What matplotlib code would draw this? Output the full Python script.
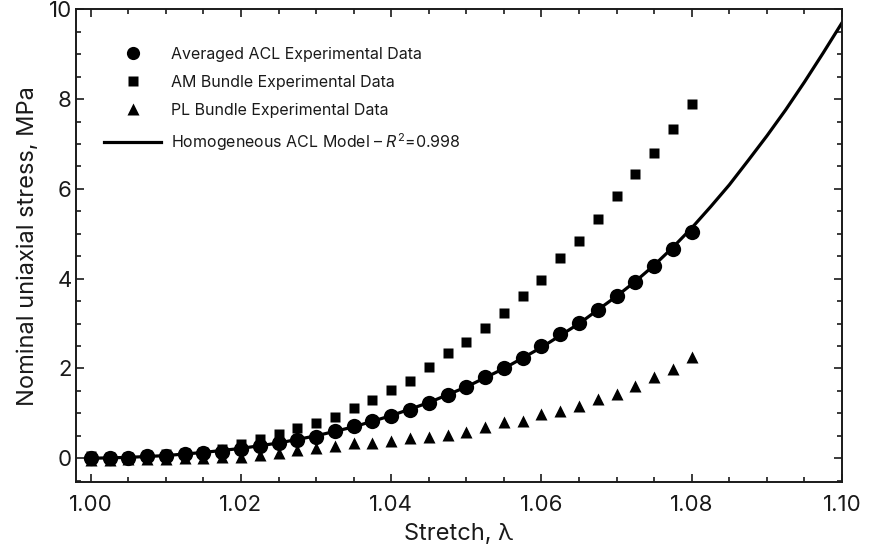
import matplotlib
matplotlib.use("Agg")
import matplotlib.pyplot as plt
from matplotlib.lines import Line2D
from matplotlib.ticker import MultipleLocator, FormatStrFormatter

# stretch values of the experimental points
stretch = [1.0, 1.0025, 1.005, 1.0075, 1.01, 1.0125, 1.015, 1.0175, 1.02, 1.0225,
           1.025, 1.0275, 1.03, 1.0325, 1.035, 1.0375, 1.04, 1.0425, 1.045, 1.0475,
           1.05, 1.0525, 1.055, 1.0575, 1.06, 1.0625, 1.065, 1.0675, 1.07, 1.0725,
           1.075, 1.0775, 1.08]

acl_avg = [0.0, 0.0, 0.01, 0.04, 0.06, 0.09, 0.11, 0.15, 0.20, 0.27,
           0.33, 0.41, 0.48, 0.61, 0.72, 0.82, 0.94, 1.08, 1.24, 1.42,
           1.59, 1.80, 2.02, 2.23, 2.49, 2.76, 3.01, 3.30, 3.61, 3.93,
           4.28, 4.66, 5.04]

am_bundle = [0.06, 0.03, 0.03, 0.07, 0.09, 0.11, 0.15, 0.20, 0.31, 0.42,
             0.55, 0.67, 0.78, 0.93, 1.13, 1.30, 1.51, 1.73, 2.03, 2.34,
             2.60, 2.91, 3.24, 3.62, 3.97, 4.45, 4.85, 5.32, 5.85, 6.33,
             6.81, 7.33, 7.88]

pl_bundle = [-0.03, -0.03, -0.02, -0.02, -0.01, 0.0, 0.0, 0.02, 0.03, 0.07,
             0.11, 0.18, 0.22, 0.27, 0.33, 0.35, 0.39, 0.45, 0.48, 0.52,
             0.59, 0.69, 0.80, 0.84, 0.98, 1.06, 1.16, 1.31, 1.43, 1.61,
             1.80, 1.98, 2.26]

# homogeneous model curve
model_x = [1.0, 1.005, 1.01, 1.015, 1.02, 1.025, 1.03, 1.035, 1.04, 1.045, 1.05,
           1.055, 1.06, 1.065, 1.07, 1.0725, 1.075, 1.0775, 1.08, 1.0825, 1.085,
           1.0875, 1.09, 1.0925, 1.095, 1.0975, 1.10]
model_y = [0.0, 0.02, 0.06, 0.13, 0.22, 0.34, 0.50, 0.70, 0.95, 1.24, 1.59,
           2.00, 2.47, 3.00, 3.61, 3.94, 4.30, 4.70, 5.13, 5.60, 6.09,
           6.63, 7.18, 7.76, 8.38, 9.03, 9.70]

plt.rcParams['font.family'] = ['Inter', 'DejaVu Sans']
plt.rcParams['mathtext.fontset'] = 'custom'
plt.rcParams['mathtext.rm'] = 'Inter'
plt.rcParams['mathtext.it'] = 'Inter:italic'

ink = '#1a1a1a'

fig = plt.figure(figsize=(8.69, 5.56), dpi=100)
ax = fig.add_axes([76 / 869, 1 - 482.3 / 556, (842 - 76) / 869, (482.3 - 9.3) / 556])

ax.plot(model_x, model_y, color='black', lw=2.3, zorder=2)
ax.plot(stretch, am_bundle, 's', color='black', ms=7, mec='none', zorder=3)
ax.plot(stretch, pl_bundle, '^', color='black', ms=9, mec='none', zorder=3)
ax.plot(stretch, acl_avg, 'o', color='black', ms=11, mec='none', zorder=4)

ax.set_xlim(0.99804, 1.10)
ax.set_ylim(-0.535, 10)
ax.xaxis.set_major_locator(MultipleLocator(0.02))
ax.xaxis.set_minor_locator(MultipleLocator(0.005))
ax.yaxis.set_major_locator(MultipleLocator(2))
ax.yaxis.set_minor_locator(MultipleLocator(0.5))
ax.xaxis.set_major_formatter(FormatStrFormatter('%.2f'))
ax.yaxis.set_major_formatter(FormatStrFormatter('%d'))
ax.tick_params(which='both', direction='in', top=True, right=True, width=1.2,
               labelsize=16, color=ink, labelcolor=ink)
ax.tick_params(which='major', length=6)
ax.tick_params(which='minor', length=3.5)
ax.tick_params(axis='x', which='major', pad=9)
ax.tick_params(axis='y', which='major', pad=3)
for s in ax.spines.values():
    s.set_linewidth(1.4)
    s.set_color(ink)

ax.set_xlabel('Stretch, λ', fontsize=17, color=ink, labelpad=6)
ax.set_ylabel('Nominal uniaxial stress, MPa', fontsize=17, color=ink, labelpad=7)

handles = [
    Line2D([], [], marker='o', ls='none', color='black', ms=9.5, mec='none'),
    Line2D([], [], marker='s', ls='none', color='black', ms=6.5, mec='none'),
    Line2D([], [], marker='^', ls='none', color='black', ms=8.5, mec='none'),
    Line2D([], [], color='black', lw=2.3),
]
labels = ['Averaged ACL Experimental Data', 'AM Bundle Experimental Data',
          'PL Bundle Experimental Data', 'Homogeneous ACL Model \u2013 $R^2$=0.998']
ax.legend(handles, labels, loc='upper left', bbox_to_anchor=(0.026, 0.938),
          frameon=False, fontsize=11.5, handlelength=3.6, handletextpad=0.6,
          labelspacing=0.82, borderpad=0, labelcolor=ink)

fig.savefig('out.png', dpi=100)
